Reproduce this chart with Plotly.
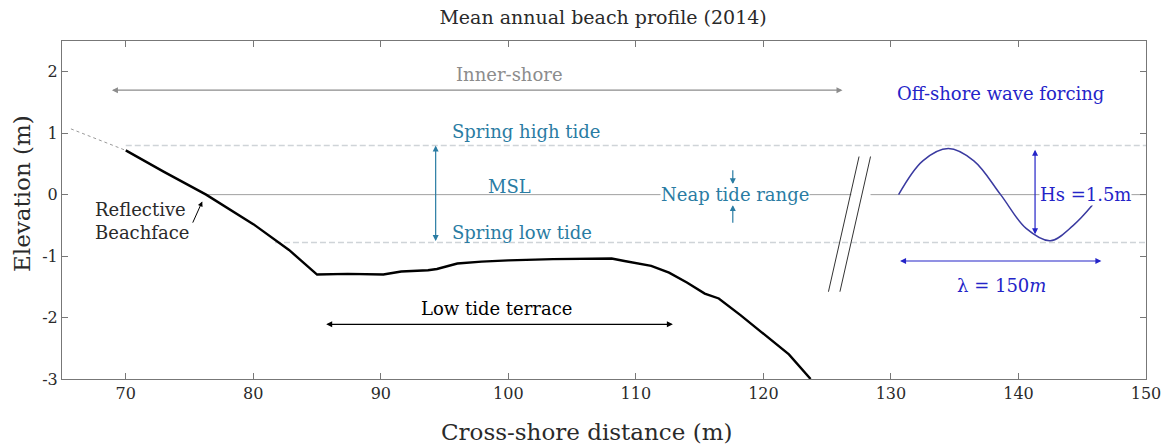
import plotly.graph_objects as go

# ---- data ----
# mean annual beach profile (solid part)
profile_x = [70.0, 73.0, 76.3, 80.0, 82.8, 85.0, 87.4, 90.2, 91.6, 93.7, 94.4,
             96.0, 97.9, 100.0, 103.5, 108.1, 109.1, 111.2, 112.6, 114.0,
             115.4, 116.5, 118.2, 119.9, 122.0, 123.7]
profile_y = [0.72, 0.37, 0.0, -0.48, -0.90, -1.30, -1.29, -1.30, -1.25, -1.23,
             -1.21, -1.12, -1.09, -1.07, -1.05, -1.04, -1.08, -1.16, -1.27,
             -1.43, -1.61, -1.69, -1.96, -2.25, -2.60, -3.0]

# extrapolated upper beach (dotted)
upper_x = [65.7, 70.0]
upper_y = [1.07, 0.72]

# tide levels (m)
msl_level = 0.0
spring_high = 0.8
spring_low = -0.78

# schematic offshore wave
wave_x = [130.6, 132.5, 134.5, 136.5, 138.6, 140.6, 142.5, 144.3, 145.8]
wave_y = [0.0, 0.55, 0.75, 0.55, 0.0, -0.55, -0.75, -0.50, -0.17]

# axis break marks
break_x = [[125.1, 127.5], [126.0, 128.4]]
break_y = [[-1.58, 0.62], [-1.58, 0.62]]

x_ticks = [70, 80, 90, 100, 110, 120, 130, 140, 150]
y_ticks = [-3, -2, -1, 0, 1, 2]
y_tick_text = ["-3", "-2", "-1", "0", "1", "2"]

FONT = "DejaVu Serif"
TEAL = "#2a7ca3"
BLUE = "#2424c8"
NAVY = "#3a3aa0"
GREY = "#8c8c8c"
INK = "#2a2a2a"

fig = go.Figure()

# tide lines
fig.add_trace(go.Scatter(x=[70.0, 150], y=[spring_high, spring_high], mode="lines",
                         line=dict(color="#cfd4d8", width=1.6, dash="6px,3px"),
                         hoverinfo="skip"))
fig.add_trace(go.Scatter(x=[81.7, 150], y=[spring_low, spring_low], mode="lines",
                         line=dict(color="#cfd4d8", width=1.6, dash="6px,3px"),
                         hoverinfo="skip"))
fig.add_trace(go.Scatter(x=[76.3, 126.9], y=[msl_level, msl_level], mode="lines",
                         line=dict(color="#a0a0a0", width=1),
                         hoverinfo="skip"))
fig.add_trace(go.Scatter(x=[128.4, 150], y=[msl_level, msl_level], mode="lines",
                         line=dict(color="#a0a0a0", width=1),
                         hoverinfo="skip"))

# profile
fig.add_trace(go.Scatter(x=upper_x, y=upper_y, mode="lines",
                         line=dict(color="#9a9a9a", width=1, dash="dot"),
                         hoverinfo="skip"))
fig.add_trace(go.Scatter(x=profile_x, y=profile_y, mode="lines",
                         line=dict(color="black", width=2.4),
                         hoverinfo="skip"))

# wave
fig.add_trace(go.Scatter(x=wave_x, y=wave_y, mode="lines",
                         line=dict(color=NAVY, width=1.5, shape="spline"),
                         hoverinfo="skip"))

# break marks
for bx, by in zip(break_x, break_y):
    fig.add_trace(go.Scatter(x=bx, y=by, mode="lines",
                             line=dict(color="#333333", width=1),
                             hoverinfo="skip"))


def arrow(x0, y0, x1, y1, color, both=True, width=1.2, size=1.0):
    fig.add_annotation(x=x1, y=y1, ax=x0, ay=y0, xref="x", yref="y",
                       axref="x", ayref="y", text="", showarrow=True,
                       arrowhead=2, arrowsize=size, arrowwidth=width,
                       arrowcolor=color,
                       arrowside="end+start" if both else "end")


def label(x, y, text, color, size=18, bg=None, align="center"):
    fig.add_annotation(x=x, y=y, xref="x", yref="y", text=text,
                       showarrow=False, font=dict(family=FONT, size=size, color=color),
                       bgcolor=bg, xanchor=align, align="left", borderpad=0)


# inner-shore
arrow(68.8, 1.70, 126.2, 1.70, GREY)
label(100.1, 1.95, "Inner-shore", GREY)

# tide range
arrow(94.3, spring_low, 94.3, spring_high, TEAL)
label(95.5, 1.03, "Spring high tide", TEAL, align="left")
label(95.5, -0.62, "Spring low tide", TEAL, align="left")
label(100.1, 0.13, "MSL", TEAL)
arrow(117.6, 0.42, 117.6, 0.17, TEAL, both=False)
arrow(117.6, -0.48, 117.6, -0.17, TEAL, both=False)
label(117.8, 0.0, "Neap tide range", TEAL, bg="white")

# reflective beachface
arrow(75.2, -0.48, 76.0, -0.11, "black", both=False, width=1)
label(67.5, -0.43, "Reflective<br>Beachface", INK, align="left")

# low tide terrace
arrow(85.6, -2.11, 112.9, -2.11, "black")
label(99.1, -1.85, "Low tide terrace", "black")

# offshore forcing
label(138.6, 1.65, "Off-shore wave forcing", BLUE)
arrow(141.3, -0.67, 141.3, 0.73, BLUE)
label(141.6, 0.0, "Hs =1.5m", BLUE, bg="white", align="left")
arrow(130.6, -1.08, 146.5, -1.08, BLUE)
label(138.7, -1.48, "λ = 150<i>m</i>", BLUE)

# axis titles (placed as paper annotations, slightly off-centre like the original)
fig.add_annotation(x=0.484, y=-0.157, xref="paper", yref="paper",
                   text="Cross-shore distance (m)", showarrow=False,
                   font=dict(family=FONT, size=23, color=INK),
                   xanchor="center", yanchor="middle")
fig.add_annotation(x=-0.037, y=0.55, xref="paper", yref="paper",
                   text="Elevation (m)", showarrow=False, textangle=-90,
                   font=dict(family=FONT, size=23, color=INK),
                   xanchor="center", yanchor="middle")

fig.update_layout(
    width=1171, height=446,
    margin=dict(l=62, r=25, t=41, b=67),
    paper_bgcolor="white", plot_bgcolor="white",
    showlegend=False,
    title=dict(text="Mean annual beach profile (2014)", x=0.515, xanchor="center",
               y=0.96, yanchor="middle",
               font=dict(family=FONT, size=19, color=INK)),
    font=dict(family=FONT, size=16, color=INK),
    xaxis=dict(range=[65, 150], tickvals=x_ticks, ticks="inside", ticklen=6,
               tickcolor="#777777", showgrid=False, zeroline=False,
               showline=True, linecolor="#777777", mirror="ticks",
               automargin=False),
    yaxis=dict(range=[-3, 2.5], tickvals=y_ticks, ticktext=y_tick_text,
               ticks="inside", ticklen=6,
               tickcolor="#777777", showgrid=False, zeroline=False,
               showline=True, linecolor="#777777", mirror="ticks",
               automargin=False),
)

# the page body has a default 8px margin; drop it so the figure fills the window
fig.write_html("out.html", config={"displayModeBar": False},
               post_script="document.body.style.margin='0';")
